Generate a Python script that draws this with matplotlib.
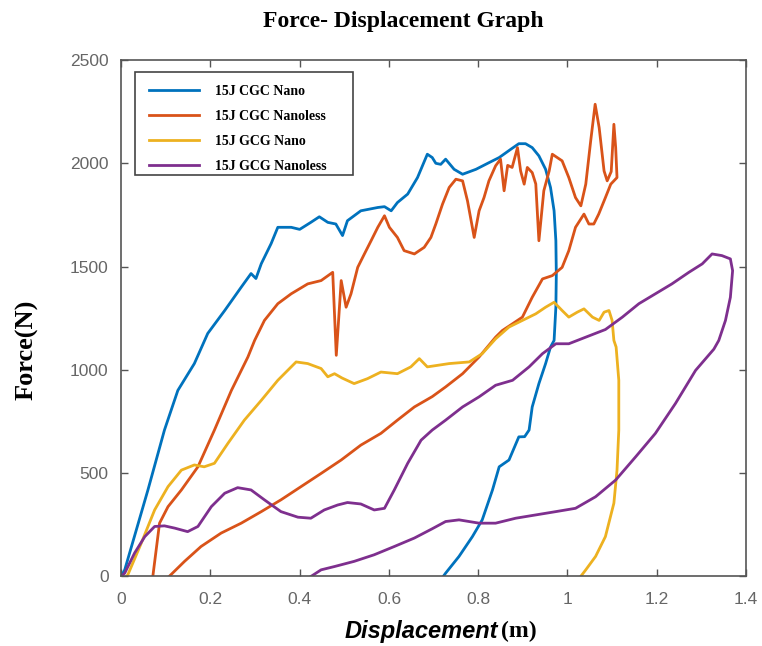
import numpy as np
import matplotlib.pyplot as plt
from matplotlib.patches import Rectangle
from matplotlib.ticker import FuncFormatter

# 力-位移数据 (加载段 + 卸载段)
cgc_nano_x = [0.0, 0.008, 0.06, 0.097, 0.127, 0.164, 0.194, 0.232, 0.269, 0.291, 0.302, 0.314,
              0.336, 0.351, 0.381, 0.40, 0.425, 0.444, 0.463, 0.481, 0.496, 0.507, 0.522, 0.537,
              0.575, 0.590, 0.605, 0.619, 0.642, 0.664, 0.686, 0.697, 0.705, 0.716, 0.727, 0.746,
              0.765, 0.795, 0.824, 0.847, 0.873, 0.891, 0.906, 0.921, 0.936, 0.951, 0.962, 0.970,
              0.974, 0.975, 0.974, 0.970, 0.962, 0.951, 0.936, 0.921, 0.914, 0.904, 0.891, 0.869,
              0.847, 0.832, 0.809, 0.787, 0.757, 0.727, 0.722]
cgc_nano_y = [0, 31, 418, 708, 900, 1030, 1176, 1287, 1400, 1466, 1442, 1514,
              1611, 1690, 1690, 1680, 1714, 1741, 1714, 1706, 1650, 1722, 1746, 1770,
              1786, 1790, 1770, 1810, 1851, 1931, 2044, 2028, 2000, 1995, 2020, 1971,
              1947, 1971, 2003, 2028, 2068, 2095, 2095, 2076, 2036, 1971, 1883, 1770,
              1625, 1464, 1303, 1142, 1110, 1030, 933, 820, 708, 676, 675, 563,
              530, 418, 273, 192, 96, 15, 0]

cgc_nanoless_x = [0.071, 0.086, 0.105, 0.135, 0.172, 0.209, 0.247, 0.284, 0.299, 0.321, 0.351,
                  0.381, 0.418, 0.448, 0.474, 0.482, 0.493, 0.504, 0.515, 0.530, 0.545, 0.560,
                  0.575, 0.590, 0.601, 0.619, 0.634, 0.657, 0.679, 0.694, 0.705, 0.720, 0.735,
                  0.750, 0.765, 0.776, 0.791, 0.802, 0.813, 0.824, 0.839, 0.850, 0.858, 0.866,
                  0.876, 0.888, 0.895, 0.903, 0.910, 0.921, 0.929, 0.936, 0.947, 0.959, 0.966,
                  0.977, 0.988, 1.003, 1.018, 1.030, 1.041, 1.052, 1.062, 1.071, 1.082, 1.089,
                  1.098, 1.104, 1.108, 1.111,
                  1.097, 1.085, 1.070, 1.059, 1.048, 1.037, 1.018, 1.003, 0.988, 0.966, 0.944,
                  0.921, 0.899, 0.877, 0.854, 0.839, 0.802, 0.765, 0.727, 0.697, 0.657, 0.619,
                  0.582, 0.537, 0.493, 0.448, 0.403, 0.358, 0.314, 0.269, 0.224, 0.179, 0.142,
                  0.108]
cgc_nanoless_y = [0, 257, 337, 418, 530, 708, 900, 1062, 1142, 1239, 1320,
                  1368, 1416, 1432, 1472, 1070, 1432, 1303, 1368, 1496, 1561, 1625,
                  1690, 1746, 1690, 1641, 1577, 1561, 1593, 1641, 1706, 1802, 1883,
                  1923, 1915, 1818, 1641, 1770, 1834, 1915, 1988, 2020, 1867, 1990,
                  1980, 2076, 1963, 1899, 1980, 1955, 1900, 1625, 1867, 1963, 2044,
                  2028, 2012, 1931, 1834, 1794, 1899, 2108, 2286, 2173, 1963, 1915,
                  1960, 2189, 2076, 1931,
                  1899, 1834, 1754, 1706, 1706, 1754, 1690, 1577, 1496, 1456, 1440,
                  1351, 1255, 1223, 1190, 1158, 1062, 981, 917, 870, 820, 756,
                  692, 635, 563, 498, 434, 370, 313, 257, 209, 144, 72,
                  0]

gcg_nano_x = [0.012, 0.015, 0.045, 0.075, 0.105, 0.135, 0.164, 0.186, 0.209, 0.239, 0.276, 0.314,
              0.351, 0.392, 0.418, 0.448, 0.463, 0.478, 0.495, 0.522, 0.552, 0.582, 0.619, 0.649,
              0.668, 0.686, 0.735, 0.780, 0.809, 0.839, 0.869, 0.899, 0.929, 0.951, 0.970, 0.988,
              1.003, 1.022, 1.037, 1.056, 1.071, 1.082, 1.093, 1.100, 1.104, 1.109, 1.115, 1.115,
              1.111, 1.104, 1.085, 1.063, 1.041, 1.030]
gcg_nano_y = [0, 7, 160, 321, 434, 514, 539, 530, 547, 643, 756, 852,
              949, 1038, 1030, 1006, 966, 981, 960, 933, 957, 989, 981, 1014,
              1054, 1014, 1030, 1038, 1078, 1150, 1207, 1239, 1271, 1303, 1327, 1287,
              1255, 1279, 1295, 1255, 1239, 1279, 1287, 1239, 1142, 1110, 949, 708,
              514, 354, 192, 96, 31, 0]

gcg_nanoless_x = [0.0, 0.008, 0.030, 0.053, 0.075, 0.097, 0.120, 0.149, 0.172, 0.202, 0.232,
                  0.261, 0.291, 0.321, 0.358, 0.396, 0.425, 0.455, 0.485, 0.507, 0.537, 0.567,
                  0.590, 0.612, 0.642, 0.672, 0.697, 0.727, 0.765, 0.802, 0.839, 0.877, 0.914,
                  0.944, 0.974, 1.003, 1.041, 1.085, 1.123, 1.160, 1.197, 1.234, 1.272, 1.302,
                  1.324, 1.346, 1.365, 1.370, 1.365, 1.354, 1.339, 1.328, 1.287, 1.242, 1.197,
                  1.153, 1.108, 1.063, 1.018, 0.974, 0.929, 0.884, 0.839, 0.802, 0.757, 0.727,
                  0.697, 0.657, 0.612, 0.567, 0.522, 0.478, 0.448, 0.426]
gcg_nanoless_y = [0, 15, 112, 192, 241, 244, 233, 216, 241, 337, 402,
                  429, 418, 370, 313, 286, 281, 321, 345, 357, 350, 321,
                  329, 418, 547, 659, 708, 756, 820, 869, 925, 949, 1014,
                  1078, 1126, 1126, 1158, 1195, 1255, 1320, 1368, 1416, 1472, 1513,
                  1561, 1553, 1537, 1480, 1351, 1239, 1142, 1100, 997, 837, 692,
                  579, 466, 385, 329, 313, 297, 281, 257, 257, 273, 265,
                  230, 185, 144, 104, 72, 47, 31, 0]

series = [
    ('15J CGC Nano', cgc_nano_x, cgc_nano_y, '#0072BD'),
    ('15J CGC Nanoless', cgc_nanoless_x, cgc_nanoless_y, '#D95319'),
    ('15J GCG Nano', gcg_nano_x, gcg_nano_y, '#EDB120'),
    ('15J GCG Nanoless', gcg_nanoless_x, gcg_nanoless_y, '#7E2F8E'),
]

fig = plt.figure(figsize=(7.62, 6.46), dpi=100)
ax = fig.add_axes([0.159, 0.108, 0.820, 0.799])

for name, xs, ys, c in series:
    ax.plot(xs, ys, color=c, linewidth=2.0, label=name)

ax.set_xlim(0, 1.4)
ax.set_ylim(0, 2500)
ax.set_xticks(np.arange(0, 1.41, 0.2))
ax.set_yticks(np.arange(0, 2501, 500))
ax.xaxis.set_major_formatter(FuncFormatter(lambda v, p: '%g' % round(v, 2)))

# MATLAB 风格的坐标框和刻度
ax.tick_params(direction='in', top=True, right=True, length=5, width=1,
               colors='#555555', labelsize=12.5)
ax.tick_params(axis='x', pad=11)
ax.tick_params(axis='y', pad=9)
for tl in ax.get_xticklabels() + ax.get_yticklabels():
    tl.set_family('Liberation Sans')
    tl.set_color('#666666')
for sp in ax.spines.values():
    sp.set_color('#555555')
    sp.set_linewidth(1.2)

# 图例：无边框图例 + 手动画的外框
leg = ax.legend(loc='upper left', bbox_to_anchor=(0.034, 0.965), frameon=False,
                borderpad=0, handlelength=3.6, handletextpad=1.1, labelspacing=0.85,
                prop={'family': 'Liberation Serif', 'weight': 'bold', 'size': 10})
ax.add_patch(Rectangle((0.0224, 0.777), 0.348, 0.200, transform=ax.transAxes,
                       facecolor='none', edgecolor='#444444', linewidth=1.2, zorder=5))

fig.text(0.529, 0.966, 'Force- Displacement Graph', ha='center', va='center',
         family='Liberation Serif', weight='bold', fontsize=17)
fig.text(0.036, 0.458, 'Force(N)', ha='center', va='center', rotation=90,
         family='Liberation Serif', weight='bold', fontsize=19)
fig.text(0.653, 0.022, 'Displacement', ha='right', va='center',
         family='Liberation Sans', weight='bold', style='italic', fontsize=17)
fig.text(0.657, 0.022, '(m)', ha='left', va='center',
         family='Liberation Serif', weight='bold', fontsize=17)

fig.savefig('out.png', dpi=100)
